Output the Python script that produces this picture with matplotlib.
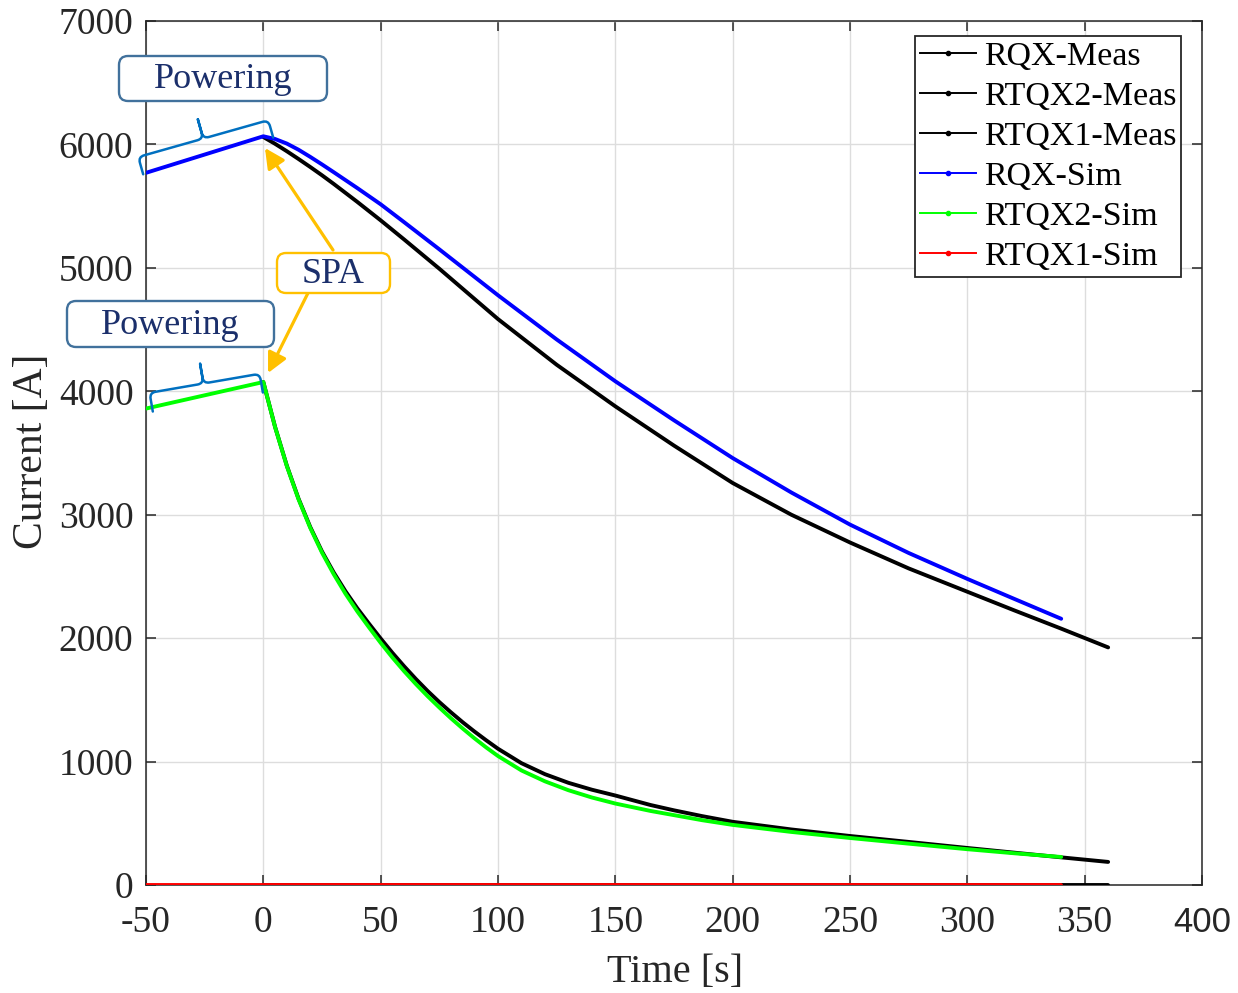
import matplotlib
matplotlib.use('Agg')
import matplotlib.pyplot as plt
import numpy as np
from matplotlib.patches import FancyBboxPatch, PathPatch
from matplotlib.path import Path
from matplotlib.lines import Line2D
from matplotlib.transforms import IdentityTransform

# ---------------- data ----------------
t_rqx_sim = [-50, 0, 5, 10, 15, 20, 25, 30, 40, 50, 60, 75, 100, 125, 150, 175, 200, 225, 250, 275, 300, 320, 340]
i_rqx_sim = [5770, 6066, 6044, 6007, 5957, 5899, 5838, 5775, 5647, 5515, 5370, 5150, 4778, 4420, 4081, 3765,
             3459, 3180, 2920, 2690, 2480, 2318, 2157]

t_rqx_meas = [0, 5, 10, 15, 20, 25, 30, 40, 50, 60, 75, 100, 125, 150, 175, 200, 225, 250, 275, 300, 320, 340, 360]
i_rqx_meas = [6060, 6005, 5945, 5882, 5817, 5750, 5680, 5535, 5385, 5230, 4993, 4585, 4215, 3878, 3560, 3257,
              3000, 2775, 2565, 2376, 2225, 2077, 1925]

t_rtqx2_sim = [-50, 0, 5, 10, 15, 20, 25, 30, 35, 40, 45, 50, 55, 60, 65, 70, 75, 80, 85, 90, 95, 100,
               110, 120, 130, 140, 150, 165, 175, 187, 200, 225, 250, 275, 300, 320, 340]
i_rtqx2_sim = [3860, 4075, 3710, 3395, 3125, 2893, 2693, 2518, 2360, 2218, 2088, 1962, 1843, 1732, 1628, 1530,
               1438, 1350, 1267, 1188, 1114, 1045, 928, 840, 768, 709, 660, 600, 566, 525, 487, 430, 381, 335,
               290, 257, 227]

t_rtqx2_meas = [0, 5, 10, 15, 20, 25, 30, 35, 40, 45, 50, 55, 60, 65, 70, 75, 80, 85, 90, 95, 100,
                110, 120, 130, 140, 150, 165, 175, 187, 200, 225, 250, 275, 300, 320, 340, 360]
i_rtqx2_meas = [4075, 3712, 3398, 3130, 2900, 2702, 2532, 2380, 2243, 2118, 1997, 1881, 1772, 1669, 1572, 1482,
                1398, 1318, 1243, 1172, 1104, 987, 898, 828, 772, 725, 648, 605, 558, 512, 450, 397, 349,
                300, 262, 224, 187]

t_rtqx1_sim = [-50, 340]
i_rtqx1_sim = [0, 0]
t_rtqx1_meas = [0, 360]
i_rtqx1_meas = [0, 0]

labels = ['RQX-Meas', 'RTQX2-Meas', 'RTQX1-Meas', 'RQX-Sim', 'RTQX2-Sim', 'RTQX1-Sim']
colors = ['black', 'black', 'black', '#0000FF', '#00FF00', '#FF0000']

xticks = [-50, 0, 50, 100, 150, 200, 250, 300, 350, 400]
xticklabels = ['-50', '0', '50', '100', '150', '200', '250', '300', '350', '400']
yticks = [0, 1000, 2000, 3000, 4000, 5000, 6000, 7000]
yticklabels = ['0', '1000', '2000', '3000', '4000', '5000', '6000', '7000']

# ---------------- figure ----------------
W, H = 1238, 993
fig = plt.figure(figsize=(W / 100, H / 100), dpi=100)
ax = fig.add_axes([146 / W, 1 - 885 / H, (1202 - 146) / W, (885 - 21) / H])

serif = 'Liberation Serif'
dark = '#262626'

series = [(t_rqx_meas, i_rqx_meas), (t_rtqx2_meas, i_rtqx2_meas), (t_rtqx1_meas, i_rtqx1_meas),
          (t_rqx_sim, i_rqx_sim), (t_rtqx2_sim, i_rtqx2_sim), (t_rtqx1_sim, i_rtqx1_sim)]
for (tt, ii), c in zip(series, colors):
    ax.plot(tt, ii, color=c, lw=2.8, solid_capstyle='round', solid_joinstyle='round', zorder=3)

ax.set_xlim(-50, 400)
ax.set_ylim(0, 7000)
ax.set_xticks(xticks)
ax.set_yticks(yticks)
ax.set_xticklabels(xticklabels, fontfamily=serif, fontsize=27, color=dark)
ax.set_yticklabels(yticklabels, fontfamily=serif, fontsize=27, color=dark)
ax.get_xticklabels()[-1].set_fontfamily('Liberation Sans')
ax.get_xticklabels()[-1].set_fontsize(25)
ax.tick_params(axis='both', direction='in', length=7, width=1.1, color=dark,
               top=True, right=True)
ax.tick_params(axis='x', pad=15)
ax.tick_params(axis='y', pad=9)
for s in ax.spines.values():
    s.set_color(dark)
    s.set_linewidth(1.1)
ax.grid(True, color='#dddddd', lw=1.0)
ax.set_axisbelow(True)

ax.set_xlabel('Time [s]', fontfamily=serif, fontsize=29, color=dark)
ax.set_ylabel('Current [A]', fontfamily=serif, fontsize=30, color=dark)
ax.xaxis.set_label_coords(0.501, -0.080)
ax.yaxis.set_label_coords(-0.090, 0.502)

handles = [Line2D([], [], color=c, lw=1.4, marker='.', markersize=6) for c in colors]
leg = ax.legend(handles, labels, loc='upper left', bbox_to_anchor=(915 / W, 1 - 36 / H),
                bbox_transform=fig.transFigure, borderaxespad=0, frameon=True, fancybox=False,
                edgecolor=dark, framealpha=1, prop={'family': serif, 'size': 24.5},
                handlelength=1.65, handletextpad=0.22, labelspacing=0.27, borderpad=0.15)
leg.get_frame().set_linewidth(1.3)
leg.set_zorder(6)


# ---------------- braces ----------------
def draw_brace(p0, p1, h1, h2, frac, r, color='#0070C0'):
    P0 = ax.transData.transform(p0)
    P1 = ax.transData.transform(p1)
    d = P1 - P0
    L = np.hypot(*d)
    u = d / L
    n = np.array([-u[1], u[0]])

    def pt(s, v):
        return P0 + u * s + n * v

    sm = frac * L
    verts = [pt(0, 0), pt(0, h1 - r), pt(0, h1), pt(r, h1), pt(sm - r, h1), pt(sm, h1), pt(sm, h1 + r),
             pt(sm, h1 + h2),
             pt(sm, h1 + h2), pt(sm, h1 + r), pt(sm, h1), pt(sm + r, h1), pt(L - r, h1), pt(L, h1),
             pt(L, h1 - r), pt(L, 0)]
    codes = [Path.MOVETO, Path.LINETO, Path.CURVE3, Path.CURVE3, Path.LINETO, Path.CURVE3, Path.CURVE3,
             Path.LINETO,
             Path.MOVETO, Path.LINETO, Path.CURVE3, Path.CURVE3, Path.LINETO, Path.CURVE3, Path.CURVE3,
             Path.LINETO]
    vd = ax.transData.inverted().transform(np.array(verts))
    ax.add_patch(PathPatch(Path(vd, codes), fill=False, ec=color, lw=1.8, clip_on=False, zorder=5,
                           capstyle='round', joinstyle='round'))


draw_brace((-51.2, 5758), (4.2, 6056), 18, 20, 0.5, 6)
draw_brace((-47.1, 3836), (-0.2, 3990), 19, 20, 0.49, 6)

# ---------------- arrows ----------------
arrow_kw = dict(arrowstyle='-|>,head_length=0.6,head_width=0.3', color='#FFC000', lw=2.3,
                shrinkA=0, shrinkB=0, mutation_scale=20)
ax.annotate('', xy=(0.7, 5971), xycoords='data', xytext=(333 / W, 1 - 250 / H),
            textcoords='figure fraction', arrowprops=arrow_kw, annotation_clip=False)
ax.annotate('', xy=(2.0, 4148), xycoords='data', xytext=(308 / W, 1 - 293 / H),
            textcoords='figure fraction', arrowprops=arrow_kw, annotation_clip=False)


# ---------------- text boxes ----------------
def text_box(x0, y0, x1, y1, text, ec):
    box = FancyBboxPatch((x0, H - y1), x1 - x0, y1 - y0, boxstyle='round,pad=0,rounding_size=9',
                         transform=IdentityTransform(), fc='white', ec=ec, lw=1.7, zorder=2)
    fig.add_artist(box)
    fig.text((x0 + x1) / 2 / W, 1 - ((y0 + y1) / 2 + 1) / H, text, ha='center', va='center',
             fontsize=26, color='#1b2f6b', family=serif, zorder=3)


text_box(119, 56, 327, 101, 'Powering', '#41719C')
text_box(67, 301, 274, 347, 'Powering', '#41719C')
text_box(277, 253, 390, 293, 'SPA', '#FFC000')

fig.savefig('out.png', dpi=100)
